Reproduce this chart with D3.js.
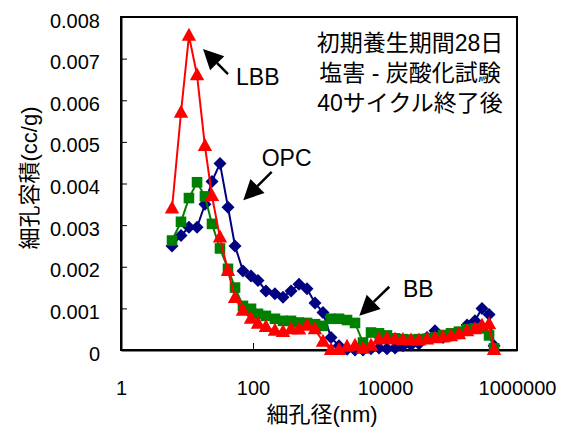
<!DOCTYPE html>
<html>
<head>
<meta charset="utf-8">
<script src="https://cdn.jsdelivr.net/npm/d3@7"></script>
<style>
  html, body { margin: 0; padding: 0; background: #fff; }
  svg { display: block; }
  text { font-family: "Liberation Sans", Arial, "Noto Sans CJK JP", sans-serif; fill: #000; }
</style>
</head>
<body>
<svg id="chart" width="572" height="427"></svg>
<script>
// ---- data ----
const diameters = [5.93, 8.11, 10.7, 14.2, 18.7, 23.9, 31.6, 41.8, 53.4, 70.5, 93.3, 119, 157, 215, 285, 377, 498, 658, 869, 1150, 1520, 2010, 2660, 3510, 4640, 6140, 8110, 10700, 14200, 18700, 24800, 32700, 43300, 57200, 75600, 100000, 132000, 175000, 231000, 295000, 377000, 449000];
const opcValues = [0.0025, 0.00275, 0.00295, 0.00295, 0.0035, 0.00405, 0.00448, 0.00343, 0.0025, 0.0019, 0.00178, 0.00167, 0.00142, 0.00135, 0.00127, 0.00142, 0.00158, 0.00147, 0.00113, 0.0009, 0.0003, 0.0001, 0.00002, 0, 0, 0.00003, 0.00005, 0.00003, 0.00005, 0.0001, 0.00012, 0.00015, 0.0003, 0.00046, 0.0003, 0.00035, 0.0004, 0.0006, 0.0007, 0.001, 0.00085, 0.0001];
const bbValues = [0.00263, 0.00308, 0.00365, 0.00403, 0.00369, 0.00303, 0.00244, 0.00195, 0.0015, 0.00106, 0.00099, 0.00087, 0.00082, 0.00075, 0.0007, 0.0007, 0.00066, 0.00065, 0.00062, 0.00058, 0.00075, 0.00075, 0.00072, 0.00065, 0.00018, 0.00042, 0.0004, 0.00035, 0.00028, 0.00026, 0.00025, 0.00026, 0.00027, 0.0003, 0.00036, 0.0004, 0.00044, 0.0005, 0.00052, 0.00052, 0.00035, 0.00004];
const lbbValues = [0.0034, 0.0057, 0.00755, 0.0066, 0.0049, 0.0037, 0.0027, 0.0019, 0.00125, 0.00094, 0.00075, 0.00063, 0.00055, 0.00046, 0.00043, 0.0005, 0.00049, 0.00058, 0.0005, 0.0002, 0, 0, 0.00008, 0.0001, 0.00003, 0.0001, 0.00025, 0.00027, 0.00025, 0.00024, 0.00023, 0.00023, 0.00025, 0.00028, 0.0003, 0.00033, 0.00038, 0.00045, 0.0005, 0.00058, 0.00062, 0];
const seriesNames = ["OPC", "BB", "LBB"];
const xTicks = [1, 100, 10000, 1000000];
const xTickLabels = ["1", "100", "10000", "1000000"];
const yTicks = [0, 0.001, 0.002, 0.003, 0.004, 0.005, 0.006, 0.007, 0.008];
const yTickLabels = ["0", "0.001", "0.002", "0.003", "0.004", "0.005", "0.006", "0.007", "0.008"];
const xTitle = "細孔径(nm)";
const yTitle = "細孔容積(cc/g)";
const noteLines = ["初期養生期間28日", "塩害 - 炭酸化試験", "40サイクル終了後"];
// annotation arrows in data coordinates
const annotations = [
  { label: "LBB", tip: [17.5, 0.00723], tail: [41.8, 0.00663], text: [55.3, 0.00637] },
  { label: "OPC", tip: [71.3, 0.0036], tail: [192, 0.00428], text: [135.5, 0.00442] },
  { label: "BB", tip: [4080, 0.00082], tail: [11620, 0.00152], text: [18750, 0.00127] }
];

// ---- layout ----
const L = 121, R = 517, T = 17, B = 350;
const svg = d3.select("#chart");
const x = d3.scaleLog().domain([1, 1000000]).range([L, R]);
const y = d3.scaleLinear().domain([0, 0.008]).range([B, T]);

// frame
svg.append("rect").attr("x", L).attr("y", T).attr("width", R - L).attr("height", B - T)
  .attr("fill", "none").attr("stroke", "#000").attr("stroke-width", 2);

// axes
const xAxis = d3.axisBottom(x).tickValues(xTicks).tickFormat((d, i) => xTickLabels[i])
  .tickSizeInner(-7).tickSizeOuter(0).tickPadding(31);
const gx = svg.append("g").attr("transform", `translate(0,${B})`).call(xAxis);
gx.select(".domain").attr("stroke", "#000").attr("stroke-width", 2);
gx.selectAll(".tick line").attr("stroke", "#000").attr("stroke-width", 1);
gx.selectAll(".tick text").attr("font-size", 20).attr("font-family", "Liberation Sans, Arial, sans-serif");

const yAxis = d3.axisLeft(y).tickValues(yTicks).tickFormat((d, i) => yTickLabels[i])
  .tickSizeInner(-6).tickSizeOuter(0).tickPadding(21);
const gy = svg.append("g").attr("transform", `translate(${L},0)`).call(yAxis);
gy.select(".domain").attr("stroke", "#000").attr("stroke-width", 2);
gy.selectAll(".tick line").attr("stroke", "#000").attr("stroke-width", 1);
gy.selectAll(".tick text").attr("font-size", 20).attr("dy", "0.5em").attr("font-family", "Liberation Sans, Arial, sans-serif");

// series
const seriesDefs = [
  { name: seriesNames[0], values: opcValues, color: "#000080", shape: "diamond" },
  { name: seriesNames[1], values: bbValues, color: "#008000", shape: "square" },
  { name: seriesNames[2], values: lbbValues, color: "#FF0000", shape: "triangle" }
];
const shapes = {
  diamond: "M0,-6.5L6.5,0L0,6.5L-6.5,0Z",
  square: "M-5.3,-5.3H5.3V5.3H-5.3Z",
  triangle: "M0,-8L7.2,5L-7.2,5Z"
};
const line = d3.line().x(d => x(d[0])).y(d => y(d[1]));
seriesDefs.forEach(s => {
  const pts = diameters.map((d, i) => [d, s.values[i]]);
  const g = svg.append("g");
  g.append("path").datum(pts).attr("d", line).attr("fill", "none")
    .attr("stroke", s.color).attr("stroke-width", 2);
  g.selectAll("path.m").data(pts).enter().append("path").attr("class", "m")
    .attr("d", shapes[s.shape])
    .attr("transform", d => `translate(${x(d[0])},${y(d[1])})`)
    .attr("fill", s.color);
});

// annotations
annotations.forEach(a => {
  const tx = x(a.tip[0]), ty = y(a.tip[1]);
  const sx = x(a.tail[0]), sy = y(a.tail[1]);
  const ang = Math.atan2(sy - ty, sx - tx);
  const len = 20, hw = 10;
  const bx = tx + len * Math.cos(ang), by = ty + len * Math.sin(ang);
  const px = -Math.sin(ang) * hw, py = Math.cos(ang) * hw;
  svg.append("line").attr("x1", bx).attr("y1", by).attr("x2", sx).attr("y2", sy)
    .attr("stroke", "#000").attr("stroke-width", 2.5);
  svg.append("path").attr("d", `M${tx},${ty}L${bx + px},${by + py}L${bx - px},${by - py}Z`).attr("fill", "#000");
  svg.append("text").attr("x", x(a.text[0])).attr("y", y(a.text[1]))
    .attr("font-size", 23).text(a.label);
});

// note text box
noteLines.forEach((t, i) => {
  svg.append("text").attr("x", 410).attr("y", 51 + i * 30).attr("text-anchor", "middle")
    .attr("font-size", 23).attr("font-family", "Liberation Sans, Noto Sans CJK JP, sans-serif").text(t);
});

// axis titles
svg.append("text").attr("x", 322).attr("y", 422).attr("text-anchor", "middle")
  .attr("font-size", 22).attr("font-family", "Liberation Sans, Noto Sans CJK JP, sans-serif").text(xTitle);
svg.append("text").attr("transform", "translate(37,178) rotate(-90)").attr("text-anchor", "middle")
  .attr("font-size", 22).attr("font-family", "Liberation Sans, Noto Sans CJK JP, sans-serif").text(yTitle);
</script>
</body>
</html>
